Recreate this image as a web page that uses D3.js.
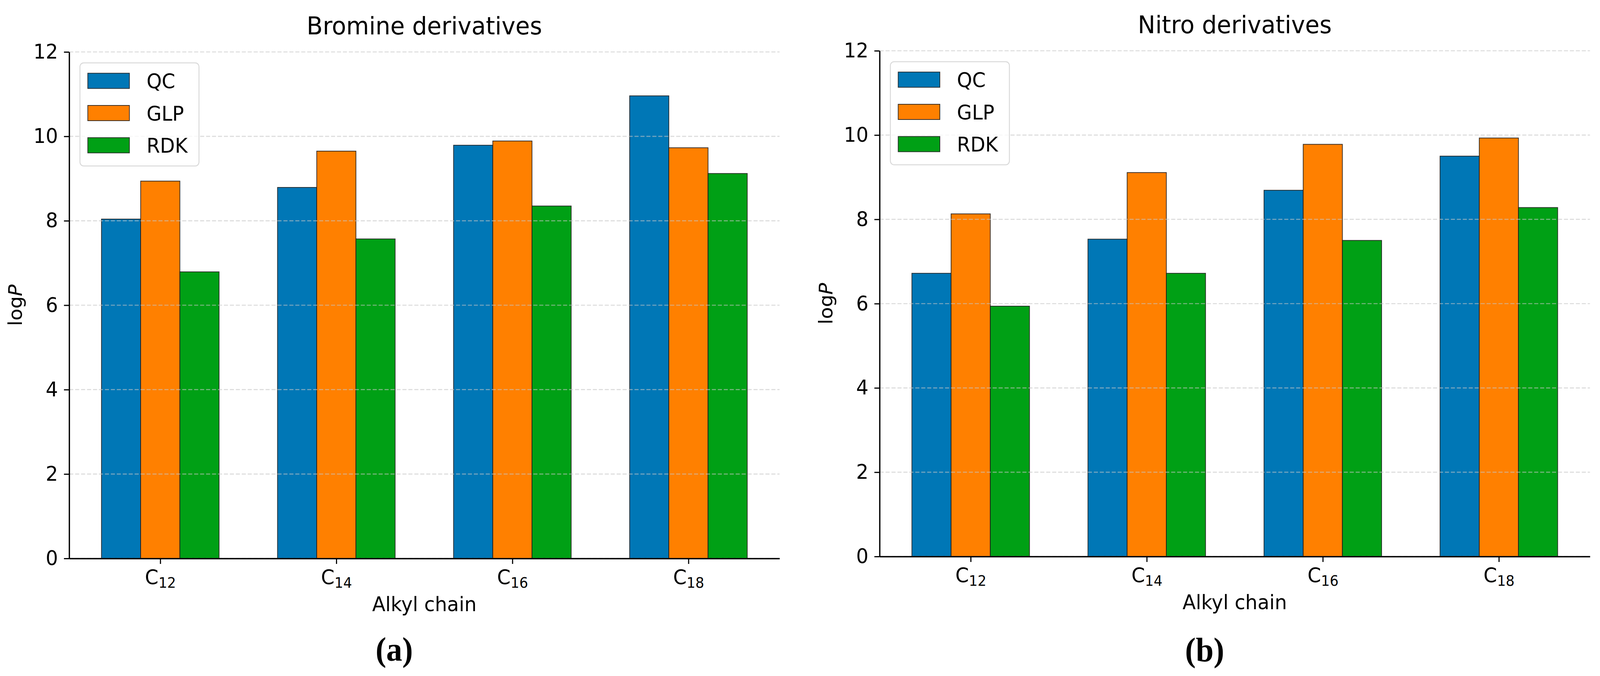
<!DOCTYPE html>
<html><head><meta charset="utf-8">
<script src="https://cdn.jsdelivr.net/npm/d3@7"></script>
<style>html,body{margin:0;padding:0;background:#fff;overflow:hidden;} svg{display:block;width:100vw;height:100vh}</style>
</head><body>
<svg id="chart" viewBox="0 0 4302 1731" preserveAspectRatio="none"></svg>
<script>
// ---------------- data ----------------
const categories = ["C12", "C14", "C16", "C18"];
const tickBase = "C";
const tickSub = ["12", "14", "16", "18"];
const series = ["QC", "GLP", "RDK"];
const seriesColors = ["#0077B6", "#FF8000", "#00A015"];
const yTicks = [0, 2, 4, 6, 8, 10, 12];

const bromineQC  = [8.04, 8.79, 9.79, 10.96];
const bromineGLP = [8.94, 9.65, 9.89, 9.73];
const bromineRDK = [6.79, 7.57, 8.35, 9.12];

const nitroQC  = [6.72, 7.53, 8.69, 9.50];
const nitroGLP = [8.13, 9.11, 9.78, 9.93];
const nitroRDK = [5.94, 6.72, 7.50, 8.28];

const titles = ["Bromine derivatives", "Nitro derivatives"];
const panelLabels = ["(a)", "(b)"];
const xLabel = "Alkyl chain";

// ---------------- layout ----------------
const barW = 0.2227;
const xMargin = 0.05 * (categories.length - 1 + 3 * barW);
const xDomain = [-1.5 * barW - xMargin, categories.length - 1 + 1.5 * barW + xMargin];
const FONT = "'DejaVu Sans', Verdana, sans-serif";

const svg = d3.select("#chart");
svg.append("rect").attr("width", 4302).attr("height", 1731).attr("fill", "#fff");

const panels = [
  { x0: 186, x1: 2096, yBottom: 1430, yTop: 133, values: [bromineQC, bromineGLP, bromineRDK], title: titles[0], label: panelLabels[0], labelY: 1692 },
  { x0: 2365, x1: 4275, yBottom: 1425, yTop: 130, values: [nitroQC, nitroGLP, nitroRDK], title: titles[1], label: panelLabels[1], labelY: 1693 }
];

function drawPanel(cfg) {
  const g = svg.append("g");
  const x = d3.scaleLinear().domain(xDomain).range([cfg.x0, cfg.x1]);
  const y = d3.scaleLinear().domain([0, 12]).range([cfg.yBottom, cfg.yTop]);
  const inner = d3.scaleBand().domain(series).range([-1.5 * barW, 1.5 * barW]).padding(0);
  const bw = x(barW) - x(0);

  series.forEach((s, si) => {
    g.append("g").selectAll("rect")
      .data(cfg.values[si])
      .join("rect")
      .attr("x", (d, i) => x(i + inner(s)))
      .attr("y", d => y(d))
      .attr("width", bw)
      .attr("height", d => y(0) - y(d))
      .attr("fill", seriesColors[si])
      .attr("stroke", "#1a1a1a")
      .attr("stroke-opacity", 0.85)
      .attr("stroke-width", 2);
  });

  g.append("g").selectAll("line")
    .data(yTicks)
    .join("line")
    .attr("x1", cfg.x0).attr("x2", cfg.x1)
    .attr("y1", d => y(d)).attr("y2", d => y(d))
    .attr("stroke", "#c4c4c4")
    .attr("stroke-opacity", 0.6)
    .attr("stroke-width", 2.6)
    .attr("stroke-dasharray", "11,5");

  const yAxis = g.append("g")
    .attr("transform", `translate(${cfg.x0},0)`)
    .call(d3.axisLeft(y).tickValues(yTicks).tickFormat(d3.format("d")).tickSize(14).tickSizeOuter(0).tickPadding(16));
  const xAxis = g.append("g")
    .attr("transform", `translate(0,${cfg.yBottom})`)
    .call(d3.axisBottom(x).tickValues(d3.range(categories.length)).tickSize(14).tickSizeOuter(0).tickPadding(15));

  [yAxis, xAxis].forEach(ax => {
    ax.select(".domain").attr("stroke", "#000").attr("stroke-width", 3.5);
    ax.selectAll(".tick line").attr("stroke", "#000").attr("stroke-width", 3);
    ax.selectAll("text").attr("font-family", FONT).attr("font-size", 52).attr("fill", "#000");
  });

  xAxis.selectAll(".tick text").each(function (d) {
    const t = d3.select(this);
    t.text(null);
    t.append("tspan").text(tickBase);
    t.append("tspan").attr("font-size", 37).attr("dy", 9).text(tickSub[d]);
  });

  const midX = (cfg.x0 + cfg.x1) / 2;
  g.append("text")
    .attr("x", midX).attr("y", cfg.yTop - 45)
    .attr("text-anchor", "middle")
    .attr("font-family", FONT).attr("font-size", 63)
    .text(cfg.title);

  g.append("text")
    .attr("x", midX).attr("y", cfg.yBottom + 135)
    .attr("text-anchor", "middle")
    .attr("font-family", FONT).attr("font-size", 52)
    .text(xLabel);

  const yl = g.append("text")
    .attr("transform", `translate(${cfg.x0 - 127},${(cfg.yTop + cfg.yBottom) / 2}) rotate(-90)`)
    .attr("text-anchor", "middle")
    .attr("font-family", FONT).attr("font-size", 50);
  yl.append("tspan").text("log");
  yl.append("tspan").attr("font-style", "italic").text("P");

  const lx = cfg.x0 + 29, ly = cfg.yTop + 28;
  const leg = g.append("g").attr("transform", `translate(${lx},${ly})`);
  leg.append("rect")
    .attr("width", 320).attr("height", 264)
    .attr("rx", 10).attr("ry", 10)
    .attr("fill", "#fff").attr("fill-opacity", 0.8)
    .attr("stroke", "#d9d9d9").attr("stroke-width", 2.5);
  const rows = leg.selectAll("g.row").data(series).join("g")
    .attr("class", "row")
    .attr("transform", (d, i) => `translate(0,${46 + i * 82.5})`);
  rows.append("rect")
    .attr("x", 21).attr("y", -19.5)
    .attr("width", 112).attr("height", 39)
    .attr("fill", (d, i) => seriesColors[i])
    .attr("stroke", "#1a1a1a").attr("stroke-opacity", 0.85).attr("stroke-width", 2);
  rows.append("text")
    .attr("x", 179).attr("y", 19)
    .attr("font-family", FONT).attr("font-size", 52)
    .text(d => d);

  g.append("text")
    .attr("x", midX - 81).attr("y", cfg.labelY)
    .attr("text-anchor", "middle")
    .attr("font-family", "'Liberation Serif', 'Times New Roman', serif")
    .attr("font-weight", "bold").attr("font-size", 86)
    .text(cfg.label);
}

panels.forEach(drawPanel);
</script>
</body></html>
